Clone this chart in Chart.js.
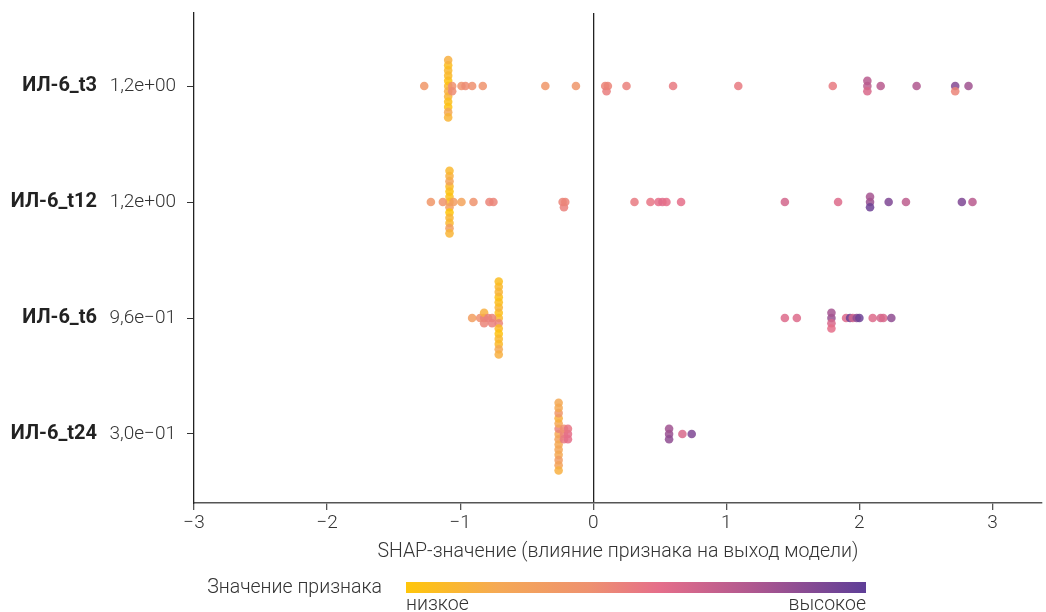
<!DOCTYPE html>
<html>
<head>
<meta charset="utf-8">
<script src="https://cdn.jsdelivr.net/npm/chart.js@4/dist/chart.umd.min.js"></script>
<style>
html, body { margin: 0; padding: 0; background: #fff; }
</style>
</head>
<body>
<canvas id="grafico" width="1046" height="612"></canvas>
<script>
// righe del grafico (dall'alto in basso)
var nomiRighe = ['ИЛ-6_t3', 'ИЛ-6_t12', 'ИЛ-6_t6', 'ИЛ-6_t24'];
var valoriRighe = ['1,2e+00', '1,2e+00', '9,6e−01', '3,0e−01'];
var tickX = [-3, -2, -1, 0, 1, 2, 3];

// valori SHAP e valore della feature (0 = basso, 1 = alto) per ogni riga
var shapT3 = [-1.09, -1.09, -1.09, -1.09, -1.09, -1.09, -1.09, -1.09, -1.09, -1.09, -1.09, -1.09,
    -1.27, -1.06, -1.06, -0.99, -0.96, -0.91, -0.83, -0.36, -0.13,
    0.09, 0.10, 0.11, 0.25, 0.60, 1.09, 1.80, 2.06, 2.06, 2.06, 2.16, 2.43, 2.72, 2.72, 2.82];
var colT3 = [0.10, 0.15, 0.02, 0.12, 0.08, 0.05, 0.10, 0.03, 0.06, 0.20, 0.15, 0.12,
    0.35, 0.40, 0.42, 0.38, 0.42, 0.40, 0.38, 0.35, 0.36,
    0.45, 0.48, 0.45, 0.47, 0.50, 0.50, 0.50, 0.70, 0.60, 0.72, 0.72, 0.75, 0.88, 0.45, 0.80];

var shapT12 = [-1.08, -1.08, -1.08, -1.08, -1.08, -1.08, -1.08, -1.08, -1.08, -1.08, -1.08, -1.08, -1.08,
    -1.22, -1.13, -1.05, -0.99, -0.90, -0.78, -0.75, -0.23, -0.22, -0.21,
    0.31, 0.43, 0.49, 0.52, 0.55, 0.66, 1.44, 1.84, 2.08, 2.08, 2.08, 2.22, 2.35, 2.77, 2.85];
var colT12 = [0.10, 0.30, 0.05, 0.00, 0.02, 0.12, 0.08, 0.10, 0.25, 0.28, 0.15, 0.12, 0.10,
    0.35, 0.38, 0.30, 0.25, 0.38, 0.45, 0.45, 0.45, 0.47, 0.45,
    0.50, 0.52, 0.55, 0.57, 0.55, 0.55, 0.62, 0.58, 0.82, 0.95, 0.78, 0.90, 0.70, 0.90, 0.72];

var shapT6 = [-0.71, -0.71, -0.71, -0.71, -0.71, -0.71, -0.71, -0.71, -0.71, -0.71, -0.71, -0.71, -0.71, -0.71, -0.71,
    -0.91, -0.85, -0.82, -0.82, -0.82, -0.79, -0.76, -0.76,
    1.44, 1.53, 1.79, 1.79, 1.79, 1.79, 1.90, 1.93, 1.95, 1.98, 2.00, 2.10, 2.16, 2.18, 2.24];
var colT6 = [0.10, 0.45, 0.05, 0.08, 0.12, 0.02, 0.06, 0.10, 0.04, 0.08, 0.12, 0.20, 0.10, 0.15, 0.06,
    0.28, 0.40, 0.45, 0.45, 0.15, 0.47, 0.45, 0.47,
    0.58, 0.58, 0.82, 0.60, 0.78, 0.55, 0.58, 0.95, 0.62, 0.85, 0.95, 0.58, 0.62, 0.60, 0.85];

var shapT24 = [-0.26, -0.26, -0.26, -0.26, -0.26, -0.26, -0.26, -0.26, -0.26, -0.26, -0.26, -0.26, -0.26, -0.26,
    -0.22, -0.22, -0.22, -0.19, -0.19, -0.19, 0.57, 0.57, 0.57, 0.67, 0.74];
var colT24 = [0.20, 0.25, 0.45, 0.20, 0.20, 0.22, 0.15, 0.20, 0.35, 0.30, 0.20, 0.25, 0.20, 0.15,
    0.45, 0.50, 0.40, 0.55, 0.55, 0.52, 0.82, 0.85, 0.80, 0.60, 0.90];

var listaShap = [shapT3, shapT12, shapT6, shapT24];
var listaCol = [colT3, colT12, colT6, colT24];

// scala colori (giallo -> viola)
var stopPos = [0, 0.2, 0.4, 0.55, 0.75, 1];
var stopCol = ['#FFC60A', '#F5A955', '#EE9170', '#E56E8A', '#B0588F', '#5E3E97'];
var PASSO = 0.045;
var FONT = 'Roboto';

function hexRgb(h) {
    return [parseInt(h.substr(1, 2), 16), parseInt(h.substr(3, 2), 16), parseInt(h.substr(5, 2), 16)];
}

function colore(t, alfa) {
    for (var i = 1; i < stopPos.length; i++) {
        if (t <= stopPos[i]) {
            var f = (t - stopPos[i - 1]) / (stopPos[i] - stopPos[i - 1]);
            var a = hexRgb(stopCol[i - 1]);
            var b = hexRgb(stopCol[i]);
            var c = a.map(function (v, k) { return Math.round(v + (b[k] - v) * f); });
            return 'rgba(' + c[0] + ',' + c[1] + ',' + c[2] + ',' + alfa + ')';
        }
    }
    return stopCol[stopCol.length - 1];
}

// impilo i punti con lo stesso valore (tipo beeswarm)
function sciame(xs, riga) {
    var ordine = xs.map(function (v, i) { return i; });
    ordine.sort(function (a, b) { return xs[a] - xs[b]; });
    var ys = [];
    var inizio = null;
    var k = 0;
    for (var j = 0; j < ordine.length; j++) {
        var i = ordine[j];
        if (inizio === null || xs[i] - inizio > 0.015) {
            inizio = xs[i];
            k = 0;
        }
        var livello = k % 2 === 1 ? (k + 1) / 2 : -k / 2;
        ys[i] = riga + livello * PASSO;
        k++;
    }
    return ys;
}

var datasets = [];
for (var r = 0; r < listaShap.length; r++) {
    var ys = sciame(listaShap[r], r);
    var punti = [];
    var colori = [];
    for (var i = 0; i < listaShap[r].length; i++) {
        punti.push({ x: listaShap[r][i], y: ys[i] });
        colori.push(colore(listaCol[r][i], 0.85));
    }
    datasets.push({
        label: nomiRighe[r],
        data: punti,
        pointBackgroundColor: colori,
        pointBorderWidth: 0,
        pointRadius: 4.3,
        pointHoverRadius: 4.3
    });
}

var pluginEtichette = {
    id: 'etichette',
    afterDraw: function (chart) {
        var ctx = chart.ctx;
        var sy = chart.scales.y;
        ctx.save();
        ctx.textBaseline = 'middle';
        ctx.textAlign = 'right';
        ctx.fillStyle = '#222';
        ctx.font = 'bold 20px ' + FONT;
        for (var i = 0; i < nomiRighe.length; i++) {
            ctx.fillText(nomiRighe[i], 97, sy.getPixelForValue(i));
        }
        // legenda colori
        var g = ctx.createLinearGradient(406, 0, 866, 0);
        for (var s = 0; s < stopPos.length; s++) {
            g.addColorStop(stopPos[s], stopCol[s]);
        }
        ctx.fillStyle = g;
        ctx.fillRect(406, 582, 460, 11);
        ctx.fillStyle = '#333';
        ctx.font = '300 19.5px ' + FONT;
        ctx.fillText('Значение признака', 382, 588);
        ctx.textAlign = 'left';
        ctx.fillText('низкое', 406, 605);
        ctx.textAlign = 'right';
        ctx.fillText('высокое', 866, 605);
        ctx.restore();
    }
};

var grafico = new Chart(document.getElementById('grafico'), {
    type: 'scatter',
    data: { datasets: datasets },
    plugins: [pluginEtichette],
    options: {
        responsive: false,
        animation: false,
        layout: { padding: { top: 13, left: 0, right: -5, bottom: 48 } },
        plugins: { legend: { display: false }, tooltip: { enabled: false } },
        scales: {
            x: {
                type: 'linear',
                min: -3,
                max: 3.37,
                afterBuildTicks: function (s) {
                    s.ticks = tickX.map(function (v) { return { value: v }; });
                },
                afterFit: function (s) {
                    s.height = 61;
                    s.paddingLeft = 0;
                    s.paddingRight = 0;
                },
                grid: {
                    drawOnChartArea: true,
                    color: function (c) {
                        return c.tick && c.tick.value === 0 ? '#222' : 'rgba(0,0,0,0)';
                    },
                    lineWidth: 1.3,
                    tickColor: '#555',
                    tickLength: 7
                },
                border: { display: true, color: '#555', width: 1.5 },
                ticks: {
                    padding: 2,
                    color: '#333',
                    font: { family: FONT, size: 19, weight: '300' },
                    callback: function (v) {
                        return v < 0 ? '−' + Math.abs(v) : String(v);
                    }
                },
                title: {
                    display: true,
                    text: 'SHAP-значение (влияние признака на выход модели)',
                    color: '#333',
                    font: { family: FONT, size: 19.5, weight: '300' },
                    padding: { top: 0, bottom: 0 }
                }
            },
            y: {
                type: 'linear',
                reverse: true,
                min: -0.63,
                max: 3.595,
                afterBuildTicks: function (s) {
                    s.ticks = nomiRighe.map(function (v, i) { return { value: i }; });
                },
                afterFit: function (s) {
                    s.width = 194;
                    s.paddingTop = 0;
                    s.paddingBottom = 0;
                },
                grid: {
                    drawOnChartArea: false,
                    tickColor: '#333',
                    tickLength: 7
                },
                border: { display: true, color: '#222', width: 1.3 },
                ticks: {
                    padding: 11,
                    color: '#333',
                    font: { family: FONT, size: 19, weight: '300' },
                    callback: function (v, i) { return valoriRighe[i]; }
                }
            }
        }
    }
});
</script>
</body>
</html>
